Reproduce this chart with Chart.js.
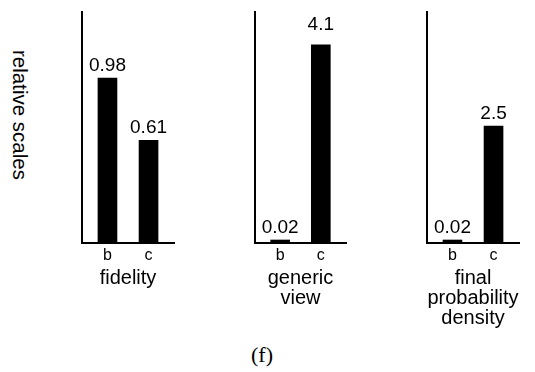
<!DOCTYPE html>
<html>
<head>
<meta charset="utf-8">
<script src="https://cdn.jsdelivr.net/npm/chart.js@4.4.1/dist/chart.umd.min.js"></script>
<style>
  body { margin: 0; background: #fff; }
  #wrap { position: relative; width: 535px; height: 372px; overflow: hidden; background: #fff; }
  canvas { position: absolute; top: 0; }
  #ytitle {
    position: absolute; left: 20px; top: 115px; width: 140px; height: 20px;
    margin-left: -70px; margin-top: -10px;
    transform: rotate(90deg);
    font: 20.5px "Liberation Sans", Arial, sans-serif; color: #000;
    text-align: center; line-height: 20px; white-space: nowrap;
  }
  #caption {
    position: absolute; left: 240px; top: 342px; width: 44px; text-align: center;
    font: 22px "Liberation Serif", "Times New Roman", serif; color: #000;
  }
</style>
</head>
<body>
<div id="wrap">
  <div id="ytitle">relative scales</div>
  <canvas id="panel1"></canvas>
  <canvas id="panel2"></canvas>
  <canvas id="panel3"></canvas>
  <div id="caption">(f)</div>
</div>
<script>
// Data
const categories = ["b", "c"];
const fidelityValues = [0.98, 0.61];
const genericViewValues = [0.02, 4.1];
const finalDensityValues = [0.02, 2.5];
const panelTitles = [["fidelity"], ["generic", "view"], ["final", "probability", "density"]];

// Layout of the three little panels (axis origin x, axis length, y max)
const panels = [
  { id: "panel1", values: fidelityValues, title: panelTitles[0], axisX: 82, axisW: 92, yMax: 1.372, gaps: [7, 7] },
  { id: "panel2", values: genericViewValues, title: panelTitles[1], axisX: 255, axisW: 91, yMax: 4.78, gaps: [7, 15] },
  { id: "panel3", values: finalDensityValues, title: panelTitles[2], axisX: 427, axisW: 92, yMax: 4.94, gaps: [7, 7] },
];

const FONT = "'Liberation Sans', Arial, Helvetica, sans-serif";
const SIDE = 40; // padding on each side of the axis inside the canvas
const AXIS_BOTTOM = 243;

// Plugin to write the value above each bar
const valueLabels = {
  id: "valueLabels",
  afterDatasetsDraw(chart, args, opts) {
    const ctx = chart.ctx;
    const meta = chart.getDatasetMeta(0);
    const points = chart.data.datasets[0].data;
    ctx.save();
    ctx.font = "19px " + FONT;
    ctx.fillStyle = "#000";
    ctx.textAlign = "center";
    ctx.textBaseline = "alphabetic";
    meta.data.forEach((bar, i) => {
      const gap = opts.gaps ? opts.gaps[i] : 7;
      ctx.fillText(String(points[i].y), bar.x, bar.y - gap);
    });
    ctx.restore();
  },
};

function makePanel(p) {
  const canvas = document.getElementById(p.id);
  const w = p.axisW + SIDE * 2;
  const h = AXIS_BOTTOM + 25 + 20 * p.title.length;
  canvas.width = w;
  canvas.height = h;
  canvas.style.left = p.axisX - SIDE + "px";
  canvas.style.width = w + "px";
  canvas.style.height = h + "px";

  return new Chart(canvas, {
    type: "bar",
    data: {
      datasets: [
        {
          data: p.values.map((v, i) => ({ x: i, y: v })),
          backgroundColor: "#000",
          borderWidth: 0,
          barThickness: 19,
          minBarLength: 3,
        },
      ],
    },
    options: {
      responsive: false,
      animation: false,
      devicePixelRatio: 1,
      layout: { padding: { left: SIDE, right: SIDE, top: 12, bottom: 0 } },
      plugins: {
        legend: { display: false },
        tooltip: { enabled: false },
        valueLabels: { gaps: p.gaps },
      },
      scales: {
        x: {
          type: "linear",
          min: -0.62,
          max: 1.62,
          offset: false,
          afterBuildTicks: (scale) => {
            scale.ticks = categories.map((c, i) => ({ value: i }));
          },
          ticks: {
            callback: (value) => categories[value],
            color: "#000",
            font: { family: FONT, size: 16, lineHeight: "19px" },
            padding: 3,
            maxRotation: 0,
          },
          grid: { display: false, drawTicks: false },
          border: { display: true, color: "#000", width: 2 },
          title: {
            display: true,
            text: p.title,
            color: "#000",
            font: { family: FONT, size: 20, lineHeight: "20px" },
            padding: { top: 0, bottom: 0 },
          },
        },
        y: {
          min: 0,
          max: p.yMax,
          ticks: { display: false },
          grid: { display: false, drawTicks: false },
          border: { display: true, color: "#000", width: 2 },
        },
      },
    },
    plugins: [valueLabels],
  });
}

panels.forEach(makePanel);
</script>
</body>
</html>
